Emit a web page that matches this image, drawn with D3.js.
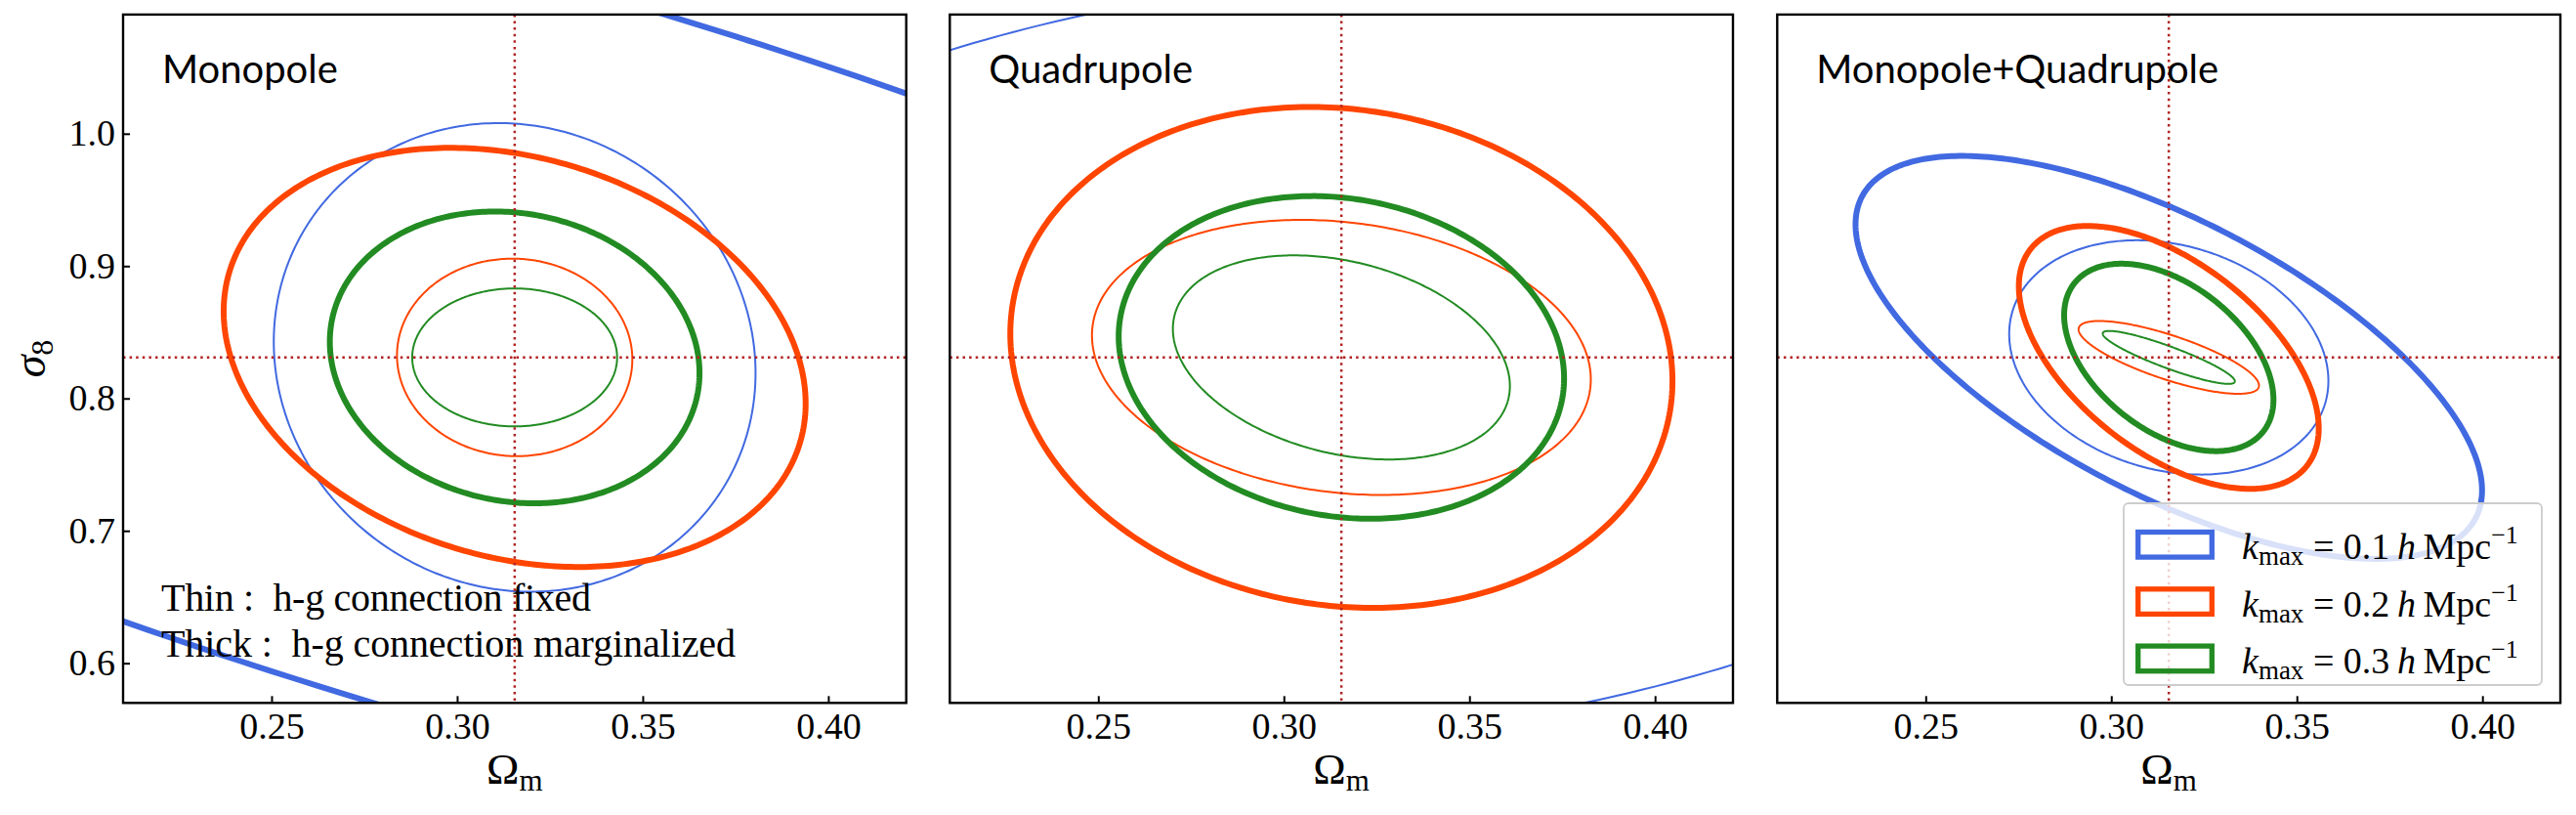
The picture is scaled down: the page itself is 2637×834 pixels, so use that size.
<!DOCTYPE html>
<html>
<head>
<meta charset="utf-8">
<script src="https://cdn.jsdelivr.net/npm/d3@7"></script>
<style>
body { margin: 0; background: #fff; }
svg text { font-family: "Liberation Serif", serif; white-space: pre; }
</style>
</head>
<body>
<svg id="fig" width="2637" height="834"></svg>
<script>
// panel titles, legend entries, ticks
var panelTitles = ["Monopole", "Quadrupole", "Monopole+Quadrupole"];
var kmaxLabels = ["0.1", "0.2", "0.3"];
var xTicks = [0.25, 0.30, 0.35, 0.40];
var yTicks = [0.6, 0.7, 0.8, 0.9, 1.0];
var fiducialOm = 0.3155;
var fiducialS8 = 0.831;

// contour half-extent in Om, half-extent in s8, correlation
// one entry per kmax (0.1, 0.2, 0.3); null = off the plot
var monoFixed = [[0.0649, 0.177, -0.067], [0.0317, 0.0746, -0.02], [0.0276, 0.0521, 0]];
var monoMarg  = [[0.381, 0.413, -0.708], [0.0784, 0.1583, -0.22], [0.0498, 0.1102, -0.107]];
var quadFixed = [[0.226, 0.290, 0.157], [0.0672, 0.1039, -0.16], [0.0454, 0.0771, -0.28]];
var quadMarg  = [null, [0.0892, 0.1892, -0.094], [0.0600, 0.1219, -0.13]];
var bothFixed = [[0.0430, 0.0885, -0.2], [0.0243, 0.0275, -0.77], [0.0178, 0.0200, -0.9]];
var bothMarg  = [[0.0844, 0.1522, -0.66], [0.0404, 0.0993, -0.54], [0.0282, 0.0708, -0.45]];

var fixedSets = [monoFixed, quadFixed, bothFixed];
var margSets = [monoMarg, quadMarg, bothMarg];

//layout
var panelLeft = [126, 972.3, 1819.3];
var panelTop = 14.9;
var panelW = 801.7;
var panelH = 704.4;
var colours = ["#4169e1", "#ff4500", "#228b22"];
var thinWidth = 2;
var thickWidth = 6;
var fidColour = "#b22222";

var xScale = d3.scaleLinear().domain([0.21, 0.421]).range([0, panelW]);
var yScale = d3.scaleLinear().domain([0.57, 1.09]).range([panelH, 0]);

// outline of a contour from its extents and correlation
function ellipsePoints(p) {
    var n = 360;
    var s = Math.sqrt(1 - p[2] * p[2]);
    return d3.range(n).map(function(i) {
        var t = 2 * Math.PI * i / n;
        return [fiducialOm + p[0] * Math.cos(t),
                fiducialS8 + p[1] * (p[2] * Math.cos(t) + s * Math.sin(t))];
    });
}

var contourLine = d3.line()
    .x(function(d) { return xScale(d[0]); })
    .y(function(d) { return yScale(d[1]); })
    .curve(d3.curveLinearClosed);

var svg = d3.select("#fig");
var defs = svg.append("defs");

panelTitles.forEach(function(title, pi) {
    defs.append("clipPath").attr("id", "clip" + pi)
        .append("rect").attr("width", panelW).attr("height", panelH);

    var g = svg.append("g")
        .attr("transform", "translate(" + panelLeft[pi] + "," + panelTop + ")");
    var plot = g.append("g").attr("clip-path", "url(#clip" + pi + ")");

    //thin contours: h-g connection fixed
    fixedSets[pi].forEach(function(p, k) {
        if (!p) return;
        plot.append("path")
            .attr("d", contourLine(ellipsePoints(p)))
            .attr("fill", "none")
            .attr("stroke", colours[k])
            .attr("stroke-width", thinWidth);
    });
    //thick contours: marginalized
    margSets[pi].forEach(function(p, k) {
        if (!p) return;
        plot.append("path")
            .attr("d", contourLine(ellipsePoints(p)))
            .attr("fill", "none")
            .attr("stroke", colours[k])
            .attr("stroke-width", thickWidth);
    });

    //fiducial values
    plot.append("line")
        .attr("x1", xScale(fiducialOm)).attr("x2", xScale(fiducialOm))
        .attr("y1", 0).attr("y2", panelH)
        .attr("stroke", fidColour).attr("stroke-width", 2.5)
        .attr("stroke-dasharray", "2.5,4.1");
    plot.append("line")
        .attr("x1", 0).attr("x2", panelW)
        .attr("y1", yScale(fiducialS8)).attr("y2", yScale(fiducialS8))
        .attr("stroke", fidColour).attr("stroke-width", 2.5)
        .attr("stroke-dasharray", "2.5,4.1");

    //x axis
    var x_axis = d3.axisBottom(xScale)
        .tickValues(xTicks)
        .tickFormat(d3.format(".2f"))
        .tickSizeInner(-7).tickSizeOuter(0).tickPadding(10);
    var xg = g.append("g")
        .attr("transform", "translate(0," + panelH + ")")
        .call(x_axis);
    xg.select(".domain").remove();
    xg.selectAll("line").attr("stroke-width", 2);
    xg.selectAll("text")
        .attr("font-family", "Liberation Serif").attr("font-size", 38).attr("fill", "#000");

    //y axis on first panel only
    if (pi == 0) {
        var y_axis = d3.axisLeft(yScale)
            .tickValues(yTicks)
            .tickFormat(d3.format(".1f"))
            .tickSizeInner(-7).tickSizeOuter(0).tickPadding(8);
        var yg = g.append("g").call(y_axis);
        yg.select(".domain").remove();
        yg.selectAll("line").attr("stroke-width", 2);
        yg.selectAll("text")
            .attr("font-family", "Liberation Serif").attr("font-size", 38).attr("fill", "#000");
    }

    //frame
    g.append("rect")
        .attr("width", panelW).attr("height", panelH)
        .attr("fill", "none").attr("stroke", "#000").attr("stroke-width", 2.4);

    //panel title
    g.append("text")
        .attr("x", 40).attr("y", 70)
        .style("font-family", "Lato, 'Noto Sans', sans-serif")
        .attr("font-size", 40)
        .text(title);

    //x label
    var xl = g.append("text")
        .attr("x", panelW / 2).attr("y", 787)
        .attr("text-anchor", "middle")
        .attr("font-size", 45);
    xl.append("tspan").text("\u03A9");
    xl.append("tspan").attr("font-size", 31).attr("dy", 7).text("m");

    //note on first panel
    if (pi == 0) {
        g.append("text").attr("x", 39).attr("y", 610).attr("font-size", 40)
            .attr("textLength", 440).attr("lengthAdjust", "spacing")
            .text("Thin :  h-g connection fixed");
        g.append("text").attr("x", 39).attr("y", 657).attr("font-size", 40)
            .attr("textLength", 588).attr("lengthAdjust", "spacing")
            .text("Thick :  h-g connection marginalized");
    }

    //legend on last panel
    if (pi == 2) {
        var lg = g.append("g").attr("transform", "translate(354.7,500.1)");
        lg.append("rect")
            .attr("width", 428).attr("height", 186).attr("rx", 5)
            .attr("fill", "#fff").attr("fill-opacity", 0.8)
            .attr("stroke", "#cccccc").attr("stroke-width", 1.8);
        kmaxLabels.forEach(function(k, i) {
            var row = lg.append("g").attr("transform", "translate(0," + (42.3 + i * 58.3) + ")");
            row.append("rect")
                .attr("x", 14.7).attr("y", -12.8)
                .attr("width", 75.6).attr("height", 25.6)
                .attr("fill", "none").attr("stroke", colours[i]).attr("stroke-width", 5.3);
            var t = row.append("text").attr("x", 121).attr("y", 15).attr("font-size", 38);
            t.append("tspan").attr("font-style", "italic").text("k");
            t.append("tspan").attr("font-size", 27).attr("dy", 6).text("max");
            t.append("tspan").attr("dy", -6).text(" = " + k + "\u2009");
            t.append("tspan").attr("font-style", "italic").text("h");
            t.append("tspan").text("\u2009Mpc");
            t.append("tspan").attr("font-size", 26).attr("dy", -16).text("\u22121");
        });
    }
});

//y label
var yl = svg.append("text")
    .attr("transform", "translate(46,367) rotate(-90)")
    .attr("text-anchor", "middle")
    .attr("font-size", 46);
yl.append("tspan").attr("font-style", "italic").text("\u03C3");
yl.append("tspan").attr("font-size", 32).attr("dy", 8).text("8");
</script>
</body>
</html>
